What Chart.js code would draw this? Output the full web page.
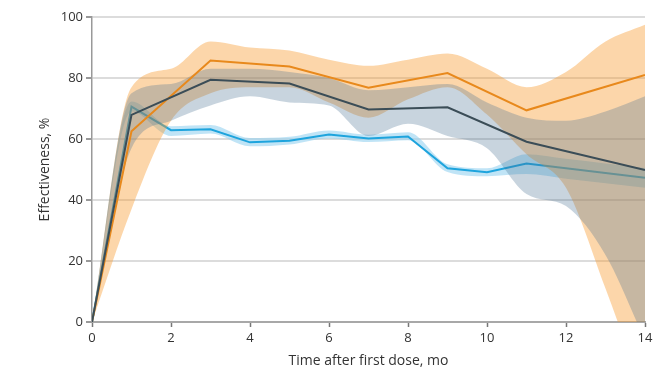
<!DOCTYPE html>
<html>
<head>
<meta charset="utf-8">
<script src="https://cdn.jsdelivr.net/npm/chart.js@4/dist/chart.umd.min.js"></script>
<style>
  html, body { margin: 0; padding: 0; background: #ffffff; }
  #wrap { width: 672px; height: 371px; position: relative; }
</style>
</head>
<body>
<div id="wrap"><canvas id="c" width="672" height="371"></canvas></div>
<script>
// Months after first dose at which each estimate is reported
const lineMonths = [0, 1, 3, 5, 7, 9, 11, 14];
const blueMonths = [0, 1, 2, 3, 4, 5, 6, 7, 8, 9, 10, 11, 14];
const bandMonths = [0, 1, 2, 3, 4, 5, 6, 7, 8, 9, 10, 11, 12, 13, 14];

// Orange series: estimate and confidence band
const orangeEst  = [0, 62.5, 85.7, 83.8, 76.8, 81.6, 69.4, 81];
const orangeLow  = [0, 37, 66, 75, 77, 77, 72, 67, 73, 77, 68, 55, 44, 11, -25];
const orangeHigh = [0, 77, 83, 92, 90, 89, 86, 84, 86, 88, 83, 77, 82, 92, 97.5];

// Dark slate series: estimate and confidence band
const slateEst  = [0, 67.9, 79.4, 78.2, 69.7, 70.4, 59.1, 49.8];
const slateLow  = [0, 57, 66, 71, 74, 72, 71, 61, 65, 61, 57, 42, 38, 22, -6];
const slateHigh = [0, 75, 78, 83, 83, 82, 80, 76, 77, 78, 72, 67, 66, 69, 74];

// Blue series: estimate and confidence band
const blueEst  = [0, 70.6, 62.9, 63.2, 58.9, 59.4, 61.5, 60.2, 60.8, 50.4, 49.1, 52, 47.3];
const blueLow  = [0, 69, 61, 61.8, 57.6, 58.2, 60.2, 59, 59.6, 49.2, 47.8, 48.5, 47, 45.5, 44];
const blueHigh = [0, 72.3, 64.2, 64.6, 60.3, 60.7, 62.8, 61.4, 62.2, 51.7, 50.4, 55, 53.5, 52, 50.5];

const yTicks = [0, 20, 40, 60, 80, 100];
const xTicks = [0, 2, 4, 6, 8, 10, 12, 14];

const pts = (xs, ys) => xs.map((x, i) => ({ x: x, y: ys[i] }));

function band(xs, ys, fillColor, order, fillPrev) {
  return {
    data: pts(xs, ys),
    borderWidth: 0,
    borderColor: 'rgba(0,0,0,0)',
    backgroundColor: fillColor,
    pointRadius: 0,
    cubicInterpolationMode: 'monotone',
    fill: fillPrev ? '-1' : false,
    order: order
  };
}

function line(xs, ys, color, order) {
  return {
    data: pts(xs, ys),
    borderColor: color,
    borderWidth: 2,
    pointRadius: 0,
    tension: 0,
    fill: false,
    order: order
  };
}

const FONT = "'Open Sans', 'DejaVu Sans', sans-serif";

new Chart(document.getElementById('c'), {
  type: 'line',
  data: {
    datasets: [
      band(bandMonths, blueLow, 'rgba(150,210,240,0.6)', 10, false),
      band(bandMonths, blueHigh, 'rgba(150,210,240,0.6)', 9, true),
      line(blueMonths, blueEst, '#1ea4dd', 8),
      band(bandMonths, orangeLow, 'rgba(248,153,43,0.4)', 7, false),
      band(bandMonths, orangeHigh, 'rgba(248,153,43,0.4)', 6, true),
      band(bandMonths, slateLow, 'rgba(72,112,145,0.3)', 5, false),
      band(bandMonths, slateHigh, 'rgba(72,112,145,0.3)', 4, true),
      line(lineMonths, orangeEst, '#e8891c', 2),
      line(lineMonths, slateEst, '#3b4d57', 1)
    ]
  },
  options: {
    responsive: false,
    animation: false,
    devicePixelRatio: 1,
    layout: { padding: { top: 17, right: 27, left: 0, bottom: 0 } },
    plugins: { legend: { display: false }, tooltip: { enabled: false } },
    scales: {
      x: {
        type: 'linear',
        min: 0,
        max: 14,
        afterBuildTicks: s => { s.ticks = xTicks.map(v => ({ value: v })); },
        afterFit: s => { s.height = 49; },
        grid: { drawOnChartArea: false, drawTicks: true, tickLength: 5, tickColor: '#777', tickWidth: 1.5 },
        border: { color: '#a8a8a8', width: 2 },
        ticks: { color: '#333', font: { family: FONT, size: 13 }, padding: 3, maxRotation: 0 },
        title: {
          display: true,
          text: 'Time after first dose, mo',
          color: '#333',
          font: { family: FONT, size: 14 },
          padding: { top: 0, bottom: 2 }
        }
      },
      y: {
        min: 0,
        max: 100,
        afterBuildTicks: s => { s.ticks = yTicks.map(v => ({ value: v })); },
        afterFit: s => { s.width = 92; },
        grid: { color: '#dcdcdc', lineWidth: 2, drawTicks: true, tickLength: 6, tickColor: '#777', tickWidth: 1.5 },
        border: { color: '#999', width: 1.5 },
        ticks: { color: '#333', font: { family: FONT, size: 13 }, padding: 3 },
        title: {
          display: true,
          text: 'Effectiveness, %',
          color: '#333',
          font: { family: FONT, size: 14 },
          padding: { top: 37, bottom: 0 }
        }
      }
    }
  }
});
</script>
</body>
</html>
